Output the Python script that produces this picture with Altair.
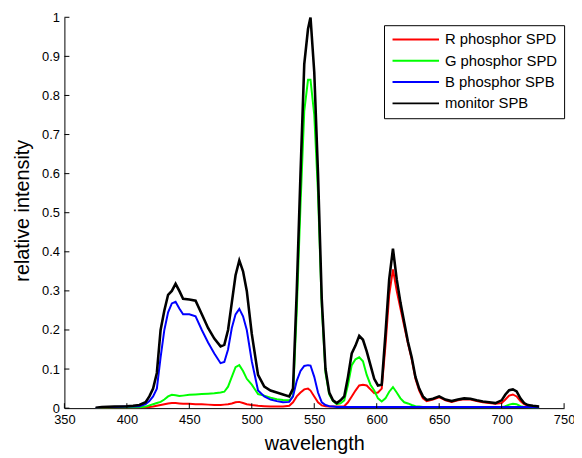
import altair as alt
import pandas as pd

wavelength = [375, 380, 390, 400, 405, 410, 415, 418, 421, 424, 427, 430, 433, 436, 439, 442, 445,
              450, 455, 460, 465, 470, 475, 478, 481, 484, 487, 490, 493, 496, 500, 505, 510, 515,
              520, 525, 530, 533, 536, 539, 542, 545, 547, 550, 553, 556, 559, 562, 565, 568, 571,
              574, 577, 580, 583, 586, 589, 592, 595, 598, 601, 604, 607, 610, 613, 616, 619, 622,
              625, 628, 631, 634, 637, 640, 645, 650, 655, 660, 665, 670, 675, 680, 685, 690, 695,
              700, 703, 706, 709, 712, 715, 718, 721, 725, 730]

r_spd = [0.0, 0.0, 0.001, 0.001, 0.001, 0.001, 0.002, 0.003, 0.004, 0.006, 0.008, 0.010, 0.012, 0.013,
         0.013, 0.012, 0.011, 0.011, 0.010, 0.010, 0.009, 0.008, 0.008, 0.009, 0.010, 0.012, 0.015,
         0.016, 0.013, 0.010, 0.008, 0.006, 0.005, 0.004, 0.004, 0.004, 0.006, 0.015, 0.030, 0.040,
         0.048, 0.050, 0.045, 0.030, 0.015, 0.007, 0.005, 0.004, 0.004, 0.004, 0.004, 0.005, 0.015,
         0.030, 0.045, 0.058, 0.060, 0.058, 0.048, 0.038, 0.040, 0.050, 0.160, 0.290, 0.355, 0.300,
         0.255, 0.210, 0.165, 0.125, 0.075, 0.045, 0.025, 0.018, 0.022, 0.028, 0.020, 0.016, 0.020,
         0.023, 0.022, 0.018, 0.015, 0.013, 0.011, 0.013, 0.022, 0.032, 0.035, 0.030, 0.018, 0.010,
         0.006, 0.004, 0.002]

g_spd = [0.0, 0.0, 0.001, 0.001, 0.001, 0.002, 0.004, 0.007, 0.010, 0.013, 0.016, 0.022, 0.030, 0.034,
         0.033, 0.031, 0.032, 0.034, 0.035, 0.036, 0.037, 0.038, 0.040, 0.042, 0.055, 0.080, 0.105,
         0.110, 0.095, 0.075, 0.060, 0.036, 0.032, 0.027, 0.023, 0.021, 0.020, 0.030, 0.250, 0.520,
         0.760, 0.840, 0.840, 0.750, 0.550, 0.260, 0.090, 0.035, 0.018, 0.010, 0.012, 0.020, 0.060,
         0.110, 0.125, 0.130, 0.120, 0.085, 0.060, 0.045, 0.025, 0.017, 0.025, 0.042, 0.054, 0.040,
         0.025, 0.015, 0.012, 0.008, 0.005, 0.004, 0.003, 0.002, 0.002, 0.002, 0.002, 0.002, 0.002,
         0.002, 0.002, 0.002, 0.002, 0.002, 0.002, 0.002, 0.005, 0.009, 0.011, 0.010, 0.005, 0.003,
         0.002, 0.001, 0.001]

b_spd = [0.0, 0.002, 0.003, 0.004, 0.004, 0.005, 0.010, 0.018, 0.030, 0.050, 0.130, 0.200, 0.245, 0.268,
         0.272, 0.255, 0.240, 0.240, 0.235, 0.200, 0.168, 0.140, 0.115, 0.118, 0.150, 0.205, 0.240,
         0.254, 0.235, 0.200, 0.120, 0.045, 0.030, 0.022, 0.018, 0.015, 0.016, 0.030, 0.070, 0.095,
         0.108, 0.110, 0.109, 0.080, 0.040, 0.015, 0.008, 0.005, 0.004, 0.003, 0.003, 0.003, 0.003,
         0.003, 0.003, 0.003, 0.003, 0.003, 0.003, 0.003, 0.003, 0.003, 0.003, 0.003, 0.003, 0.003,
         0.003, 0.003, 0.003, 0.003, 0.003, 0.003, 0.003, 0.003, 0.003, 0.003, 0.003, 0.003, 0.003,
         0.003, 0.003, 0.003, 0.003, 0.003, 0.003, 0.003, 0.003, 0.003, 0.003, 0.003, 0.003, 0.003,
         0.003, 0.002, 0.0]

monitor_spd = [0.001, 0.003, 0.004, 0.005, 0.006, 0.008, 0.015, 0.030, 0.050, 0.090, 0.200, 0.250,
               0.290, 0.300, 0.318, 0.300, 0.280, 0.278, 0.275, 0.240, 0.205, 0.178, 0.158, 0.162,
               0.200, 0.270, 0.340, 0.378, 0.350, 0.300, 0.190, 0.085, 0.055, 0.045, 0.040, 0.035,
               0.030, 0.050, 0.300, 0.600, 0.880, 0.970, 1.000, 0.860, 0.600, 0.280, 0.100, 0.040,
               0.020, 0.013, 0.020, 0.030, 0.080, 0.140, 0.160, 0.185, 0.175, 0.145, 0.110, 0.075,
               0.058, 0.060, 0.190, 0.330, 0.408, 0.330, 0.270, 0.220, 0.170, 0.130, 0.080, 0.050,
               0.030, 0.021, 0.024, 0.030, 0.022, 0.018, 0.022, 0.025, 0.024, 0.020, 0.017, 0.015,
               0.013, 0.020, 0.035, 0.046, 0.048, 0.043, 0.025, 0.013, 0.008, 0.006, 0.004]

series_names = ["R phosphor SPD", "G phosphor SPD", "B phosphor SPB", "monitor SPB"]
series_colors = ["#ff0000", "#00ff00", "#0000ff", "#000000"]
x_ticks = [350, 400, 450, 500, 550, 600, 650, 700, 750]
y_ticks = [0, 0.1, 0.2, 0.3, 0.4, 0.5, 0.6, 0.7, 0.8, 0.9, 1.0]

rows = []
for name, vals in zip(series_names, [r_spd, g_spd, b_spd, monitor_spd]):
    for w, v in zip(wavelength, vals):
        rows.append({"wavelength": w, "value": v, "series": name})
df = pd.DataFrame(rows)

FONT = "Liberation Sans"
xs = alt.Scale(domain=[350, 750], nice=False, zero=False)
ys = alt.Scale(domain=[0, 1], nice=False)
x_axis = alt.Axis(values=x_ticks, title="wavelength", titleFontSize=20, titleFontWeight="normal",
                  titleBaseline="alphabetic", titleY=42, labelPadding=6, format="d")
y_axis = alt.Axis(values=y_ticks, title="relative intensity", titleFontSize=20,
                  titleFontWeight="normal", titleX=-32, titleY=195, labelPadding=5,
                  format=".1~f")

lines = alt.Chart(df).mark_line(clip=True).encode(
    x=alt.X("wavelength:Q", scale=xs, axis=x_axis),
    y=alt.Y("value:Q", scale=ys, axis=y_axis),
    color=alt.Color("series:N", scale=alt.Scale(domain=series_names, range=series_colors),
                    legend=alt.Legend(title=None, orient="none", legendX=323, legendY=8,
                                      symbolType="M-4,0H4", symbolSize=138,
                                      symbolStrokeWidth=2, symbolOffset=17.6,
                                      labelFontSize=15, labelFont=FONT, labelOffset=22,
                                      labelColor="black",
                                      strokeColor="black", fillColor="white", padding=7,
                                      rowPadding=5.5)),
    strokeWidth=alt.condition(alt.datum.series == "monitor SPB", alt.value(2.6), alt.value(2)),
    order=alt.Order("wavelength:Q"),
)

xt = pd.DataFrame({"wavelength": x_ticks, "value": [0] * len(x_ticks),
                   "value2": [0.0127] * len(x_ticks)})
yt = pd.DataFrame({"value": y_ticks, "wavelength": [350] * len(y_ticks),
                   "wavelength2": [354] * len(y_ticks)})
xtick_marks = alt.Chart(xt).mark_rule(color="black", strokeWidth=1).encode(
    x=alt.X("wavelength:Q", scale=xs, axis=x_axis),
    y=alt.Y("value:Q", scale=ys, axis=y_axis), y2="value2:Q")
ytick_marks = alt.Chart(yt).mark_rule(color="black", strokeWidth=1).encode(
    y=alt.Y("value:Q", scale=ys, axis=y_axis),
    x=alt.X("wavelength:Q", scale=xs, axis=x_axis), x2="wavelength2:Q")

chart = alt.layer(lines, xtick_marks, ytick_marks).properties(
    width=505, height=395,
    autosize=alt.AutoSizeParams(type="none"),
    padding={"left": 57, "top": 7, "right": 10, "bottom": 48},
).configure_view(stroke=None).configure_axis(
    grid=False, ticks=False, tickSize=0, domainColor="black", domainWidth=1,
    labelFont=FONT, labelFontSize=13, labelColor="black", titleFont=FONT, titleColor="black",
    labelOverlap=False, labelBound=False, labelFlush=False,
)

chart.save("out.html", embed_options={"renderer": "svg", "actions": False})
